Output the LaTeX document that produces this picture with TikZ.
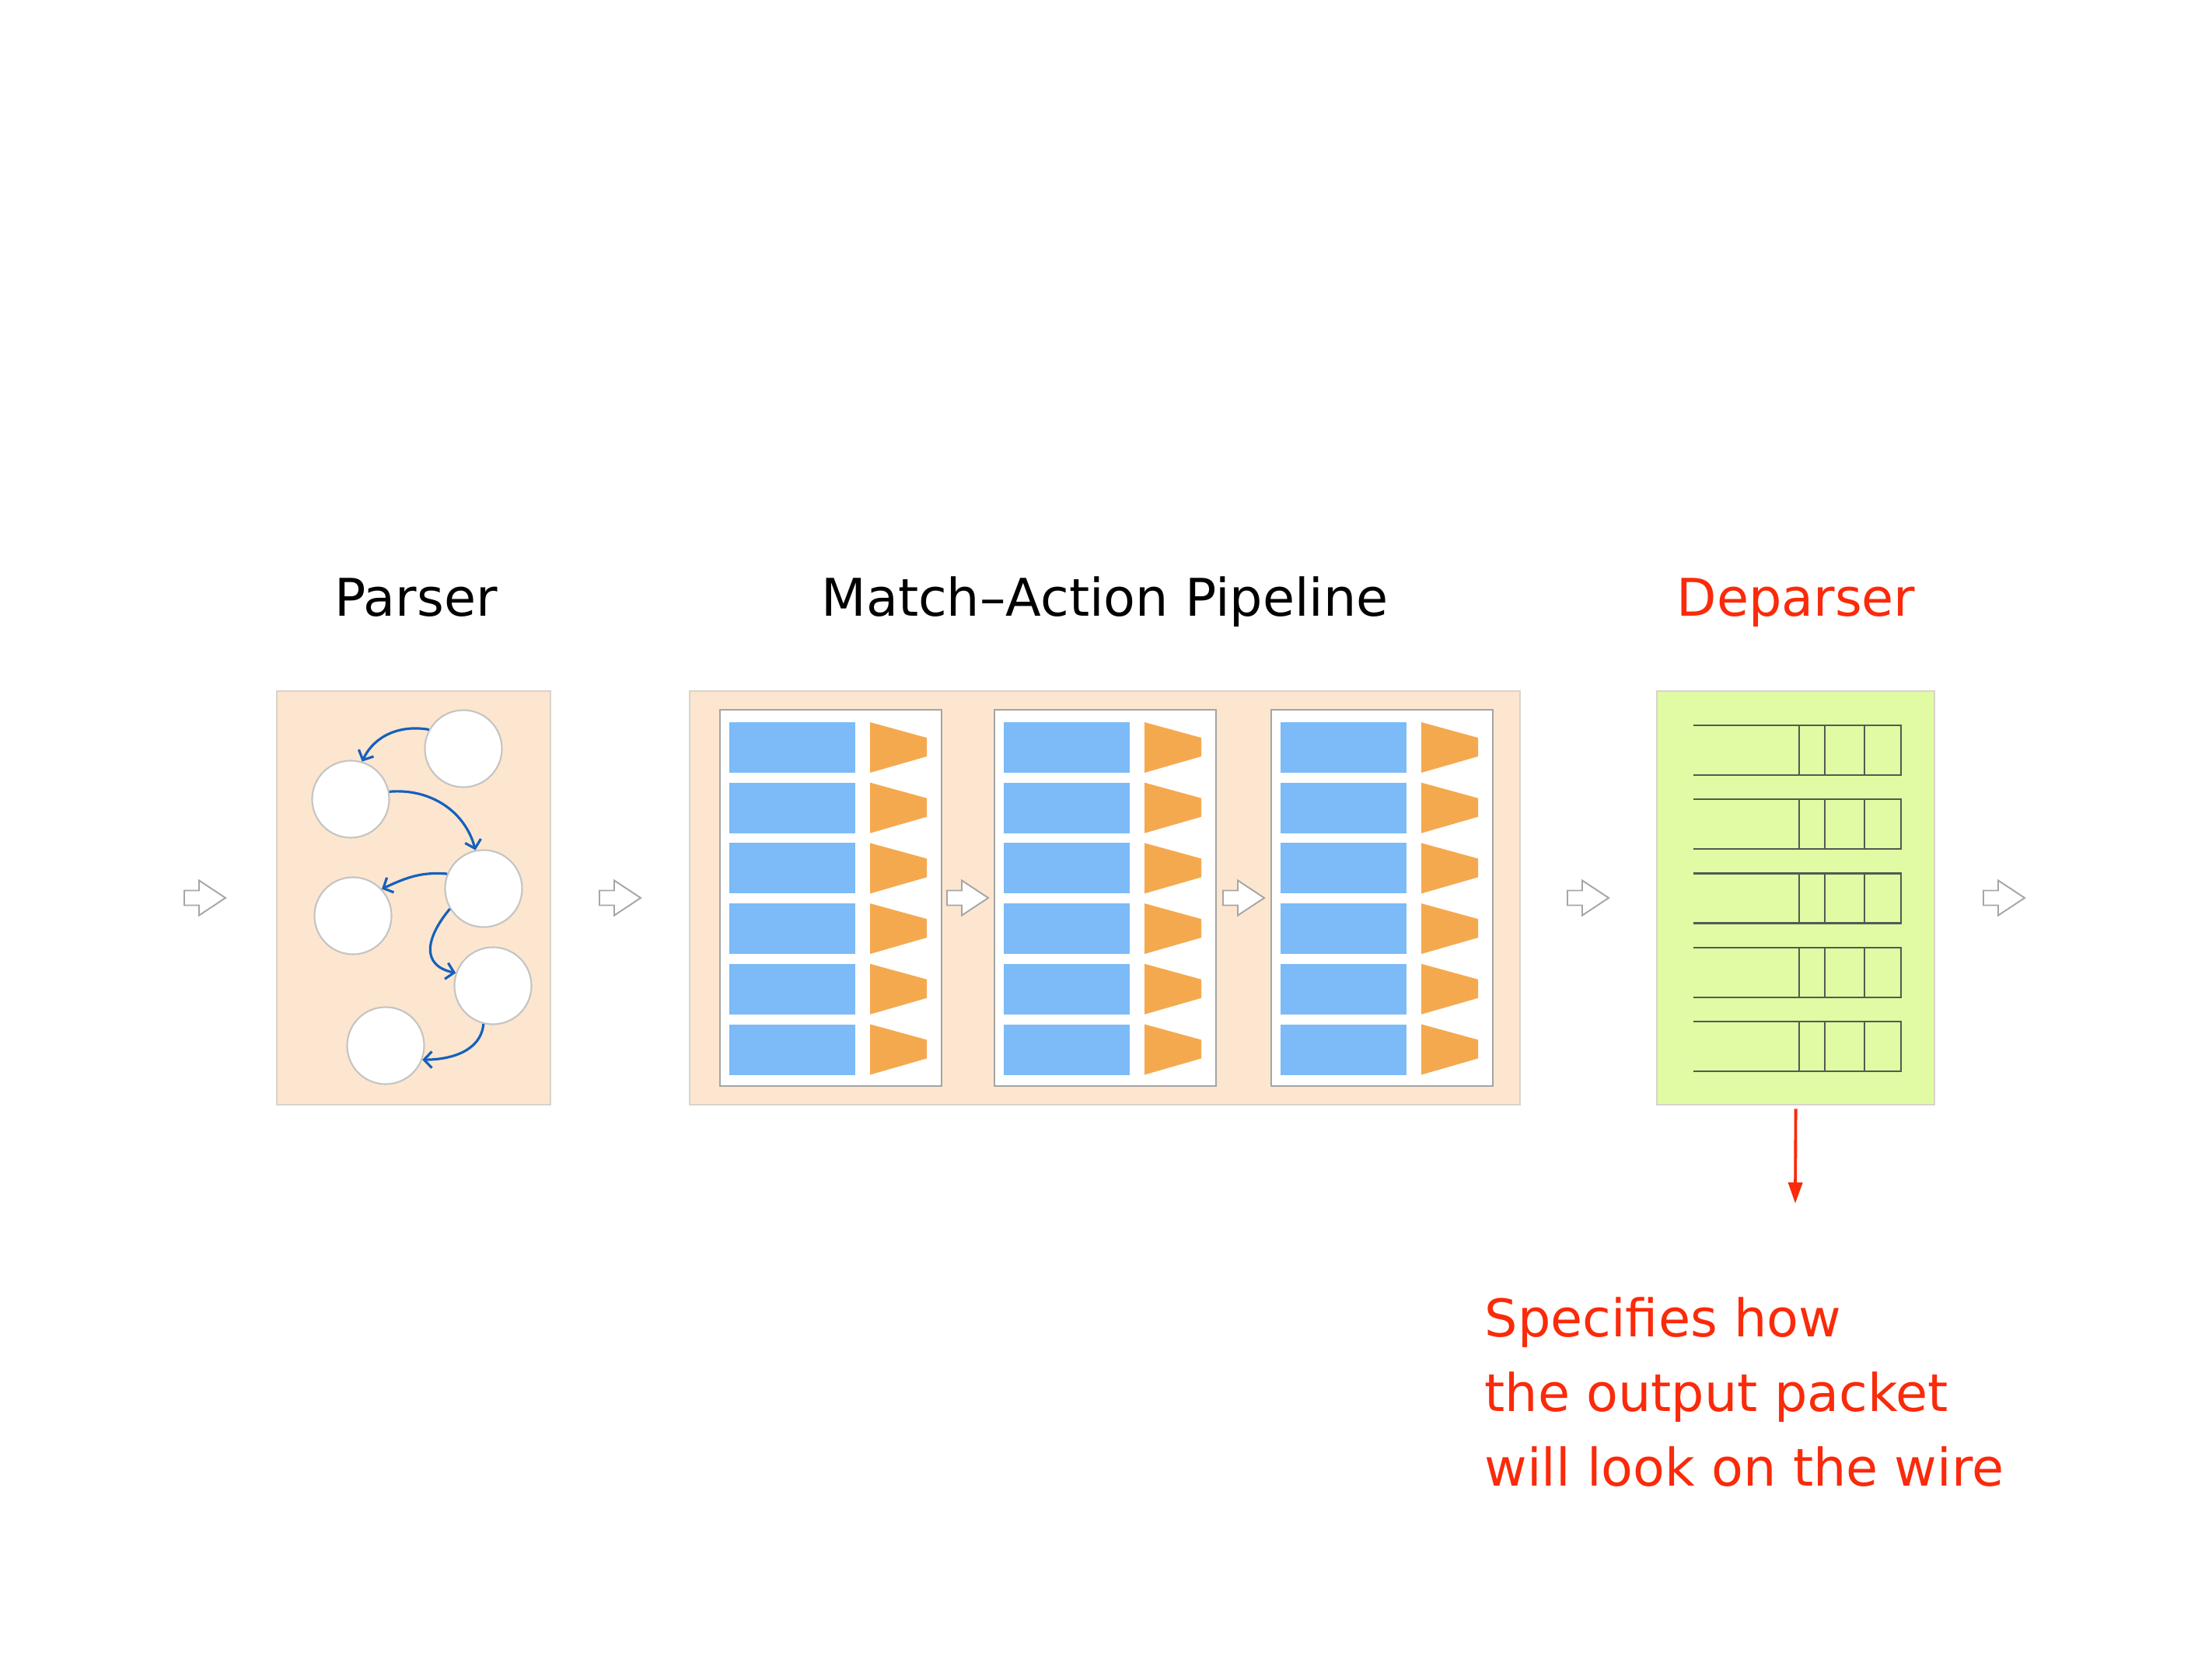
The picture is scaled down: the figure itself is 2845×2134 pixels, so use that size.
\documentclass[tikz,border=0pt]{standalone}
\usepackage{fontspec}
\setmainfont{DejaVu Sans}
\usetikzlibrary{arrows.meta}
\definecolor{peach}{HTML}{FDE6CF}
\definecolor{peachborder}{HTML}{D8D3CC}
\definecolor{depgreen}{HTML}{E0FBA4}
\definecolor{tblblue}{HTML}{7CBBF7}
\definecolor{actorange}{HTML}{F5A94F}
\definecolor{flowblue}{HTML}{1560BD}
\definecolor{notered}{HTML}{FA2A0A}
\definecolor{arrowgrey}{HTML}{A6A6A6}
\definecolor{stagegrey}{HTML}{A4A4A4}
\definecolor{pktline}{HTML}{535A52}
\definecolor{circgrey}{HTML}{C4C4C4}
\tikzset{
  bigbox/.style={draw=peachborder, line width=0.6pt, fill=peach, inner sep=0pt, outer sep=0pt, anchor=north west},
  stagebox/.style={draw=stagegrey, line width=0.6pt, fill=white, inner sep=0pt, outer sep=0pt, anchor=north west, minimum width=2.85cm, minimum height=4.84cm},
  state/.style={circle, draw=circgrey, line width=0.6pt, fill=white, minimum size=0.99cm, inner sep=0pt},
  flow/.style={draw=flowblue, line width=0.9pt, -{Straight Barb[length=0.1cm,width=0.21cm]}},
  pkt/.style={draw=pktline, line width=0.7pt},
  title/.style={anchor=base, inner sep=0pt, font=\fontsize{19pt}{23pt}\selectfont},
  hollowarrow/.pic={\draw[draw=arrowgrey, fill=white, line width=0.55pt, line join=miter]
     (0,9.5) -- (19,9.5) -- (19,22.5) -- (53,0) -- (19,-22.5) -- (19,-9.5) -- (0,-9.5) -- cycle;}
}
\begin{document}
\begin{tikzpicture}[x=0.01cm,y=0.01cm]
\useasboundingbox (0,0) rectangle (2845,-2134);

% titles
\node[title] (tparser) at (535,-793) {Parser};
\node[title] (tpipe) at (1421,-793) {Match--Action Pipeline};
\node[title, text=notered] (tdep) at (2310,-793) {Deparser};

% parser
\node[bigbox, minimum width=3.52cm, minimum height=5.32cm] (parser) at (356,-889) {};
\node[state] (c1) at (596,-963) {};
\node[state] (c2) at (451,-1028) {};
\node[state] (c3) at (622,-1143) {};
\node[state] (c4) at (454,-1178) {};
\node[state] (c5) at (634,-1268) {};
\node[state] (c6) at (496,-1345) {};
\draw[flow] (c1.151) to[out=170,in=65] (c2.73);
\draw[flow] (c2.11) to[out=5,in=105] (c3.102);
\draw[flow] (c3.158) to[out=175,in=25] (c4.43);
\draw[flow] (c3.211) to[out=230,in=168,looseness=1.45] (c5.161);
\draw[flow] (c5.256) to[out=265,in=0] (c6.339);

% pipeline
\node[bigbox, minimum width=10.67cm, minimum height=5.32cm] (pipe) at (887,-889) {};
\foreach \sx [count=\i] in {926,1279,1635} {
  \node[stagebox] (st\i) at (\sx,-913) {};
  \foreach \k in {0,...,5} {
    \pgfmathsetmacro\ty{-929-77.7*\k}
    \fill[tblblue] (\sx+12,\ty) rectangle ++(162,-65);
    \fill[actorange] (\sx+193,\ty) -- (\sx+266,\ty-20) -- (\sx+266,\ty-44) -- (\sx+193,\ty-65) -- cycle;
  }
}

% deparser
\node[bigbox, fill=depgreen, minimum width=3.57cm, minimum height=5.32cm] (dep) at (2131,-889) {};
\foreach \k in {0,...,4} {
  \pgfmathsetmacro\ry{-933-95.25*\k}
  \draw[pkt] (2178,\ry) -- (2445,\ry) -- (2445,\ry-64) -- (2178,\ry-64);
  \foreach \dx in {2314,2347,2398} \draw[pkt] (\dx,\ry) -- (\dx,\ry-64);
}

% hollow flow arrows
\pic at (237,-1155) {hollowarrow};
\pic at (771,-1155) {hollowarrow};
\pic at (1218,-1155) {hollowarrow};
\pic at (1573,-1155) {hollowarrow};
\pic at (2016,-1155) {hollowarrow};
\pic at (2551,-1155) {hollowarrow};

% red annotation
\coordinate (redend) at (2309,-1548);
\draw[draw=notered, line width=1.1pt, -{Triangle[length=0.27cm,width=0.18cm]}] ([yshift=-0.05cm]dep.south) -- (redend);
\node[anchor=base west, align=left, inner sep=0pt, text=notered, font=\fontsize{19pt}{27.3pt}\selectfont] (note) at (1909,-1911) {Specifies how\\the output packet\\will look on the wire};
\end{tikzpicture}
\end{document}
